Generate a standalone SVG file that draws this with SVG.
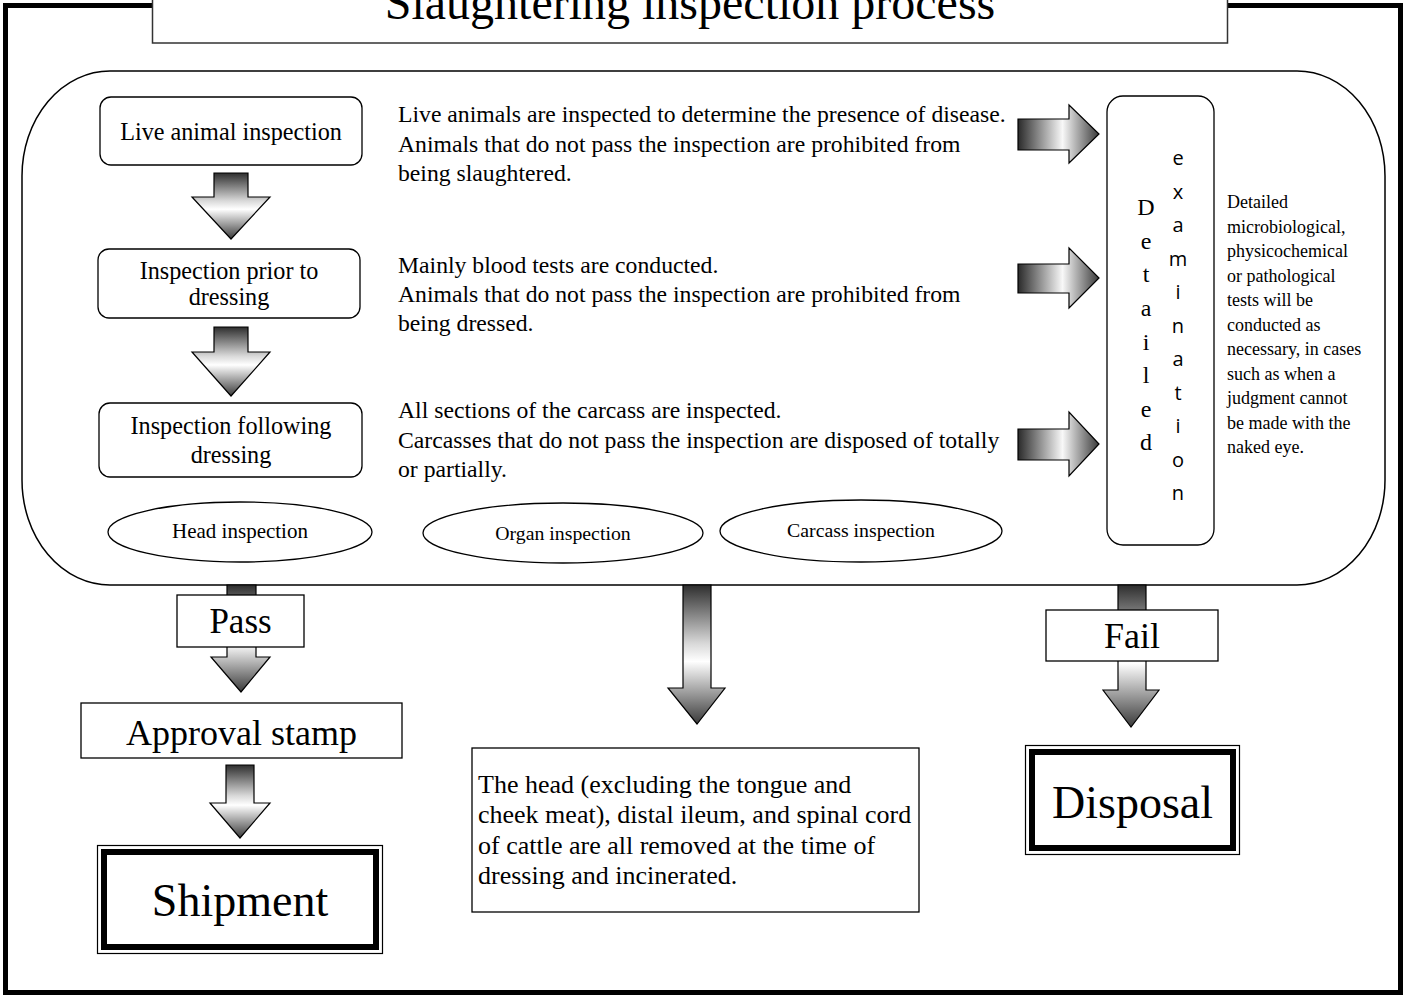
<svg xmlns="http://www.w3.org/2000/svg" width="1407" height="996" viewBox="0 0 1407 996">
<style>
.serif{font-family:"Liberation Serif","Times New Roman",serif;fill:#000}
.sans{font-family:"Open Sans","Noto Sans","DejaVu Sans",sans-serif;fill:#000}
.box{fill:#fff;stroke:#000;stroke-width:1.3}
.arr{stroke:#000;stroke-width:1.2;stroke-linejoin:miter}
.c{text-anchor:middle}
</style>
<defs>
<linearGradient id="gv" x1="0" y1="0" x2="0" y2="1">
<stop offset="0" stop-color="#2e2e2e"/>
<stop offset="0.42" stop-color="#d8d8d8"/>
<stop offset="0.55" stop-color="#ffffff"/>
<stop offset="1" stop-color="#3a3a3a"/>
</linearGradient>
<linearGradient id="gh" x1="0" y1="0" x2="1" y2="0">
<stop offset="0" stop-color="#2a2a2a"/>
<stop offset="0.55" stop-color="#f8f8f8"/>
<stop offset="1" stop-color="#3a3a3a"/>
</linearGradient>
</defs>
<rect width="1407" height="996" fill="#fff"/>
<rect id="frame" x="5.5" y="5.5" width="1395" height="987" fill="none" stroke="#000" stroke-width="5"/>
<g id="title">
<rect x="152.5" y="-5" width="1075" height="48" fill="#fff" stroke="#333" stroke-width="1.5"/>
<text class="serif c" x="690" y="19" font-size="48">Slaughtering inspection process</text>
</g>
<rect id="container" x="22" y="71" width="1363" height="514" rx="88" ry="105" fill="none" stroke="#000" stroke-width="1.5"/>
<g id="connectors">
<polygon class="arr" fill="url(#gv)" points="214,173 248,173 248,197 270,197 231,239 192,197 214,197"/>
<polygon class="arr" fill="url(#gv)" points="214,327 248,327 248,352 270,352 231,396 192,352 214,352"/>
<polygon class="arr" fill="url(#gh)" points="1018,119 1069,119 1069,105 1099,134 1069,163 1069,150 1018,150"/>
<polygon class="arr" fill="url(#gh)" points="1018,264 1069,264 1069,248 1099,278 1069,308 1069,293 1018,293"/>
<polygon class="arr" fill="url(#gh)" points="1018,429 1069,429 1069,412 1099,444 1069,476 1069,460 1018,460"/>
<polygon class="arr" fill="url(#gv)" points="227,585 256,585 256,657 270,657 241,692 211,657 227,657"/>
<polygon class="arr" fill="url(#gv)" points="226,765 254,765 254,803 270,803 240,838 210,803 226,803"/>
<polygon class="arr" fill="url(#gv)" points="683,585 711,585 711,688 725,688 697,724 668,688 683,688"/>
<polygon class="arr" fill="url(#gv)" points="1118,585 1146,585 1146,690 1159,690 1131,727 1103,690 1118,690"/>
</g>
<g id="live">
<rect class="box" x="100" y="97" width="262" height="68" rx="11"/>
<text class="serif c" x="231" y="140" font-size="24.2">Live animal inspection</text>
</g>
<g id="prior">
<rect class="box" x="98" y="249" width="262" height="69" rx="11"/>
<text class="serif c" x="229" y="279" font-size="24.2">Inspection prior to</text>
<text class="serif c" x="229" y="305" font-size="24.2">dressing</text>
</g>
<g id="following">
<rect class="box" x="99" y="403" width="263" height="74" rx="11"/>
<text class="serif c" x="231" y="434" font-size="24.2">Inspection following</text>
<text class="serif c" x="231" y="463" font-size="24.2">dressing</text>
</g>
<g id="desc1">
<text class="serif" font-size="23.7"><tspan x="398" y="122">Live animals are inspected to determine the presence of disease.</tspan><tspan x="398" y="152">Animals that do not pass the inspection are prohibited from</tspan><tspan x="398" y="181">being slaughtered.</tspan></text>
</g>
<g id="desc2">
<text class="serif" font-size="23.7"><tspan x="398" y="273">Mainly blood tests are conducted.</tspan><tspan x="398" y="302">Animals that do not pass the inspection are prohibited from</tspan><tspan x="398" y="331">being dressed.</tspan></text>
</g>
<g id="desc3">
<text class="serif" font-size="23.7"><tspan x="398" y="418">All sections of the carcass are inspected.</tspan><tspan x="398" y="448">Carcasses that do not pass the inspection are disposed of totally</tspan><tspan x="398" y="477">or partially.</tspan></text>
</g>
<g id="head">
<ellipse class="box" cx="240" cy="532" rx="132" ry="30"/>
<text class="serif c" x="240" y="538" font-size="21">Head inspection</text>
</g>
<g id="organ">
<ellipse class="box" cx="563" cy="533" rx="140" ry="30"/>
<text class="serif c" x="563" y="540" font-size="19.8">Organ inspection</text>
</g>
<g id="carcass">
<ellipse class="box" cx="861" cy="531" rx="141" ry="31"/>
<text class="serif c" x="861" y="537" font-size="19.8">Carcass inspection</text>
</g>
<g id="detailed">
<rect class="box" x="1107" y="96" width="107" height="449" rx="16"/>
<text class="serif c" font-size="24"><tspan x="1146" y="215">D</tspan><tspan x="1146" y="248.6">e</tspan><tspan x="1146" y="282">t</tspan><tspan x="1146" y="316">a</tspan><tspan x="1146" y="349.5">i</tspan><tspan x="1146" y="383">l</tspan><tspan x="1146" y="417">e</tspan><tspan x="1146" y="450">d</tspan></text>
<text class="sans c" font-size="20"><tspan x="1178" y="165">e</tspan><tspan x="1178" y="198.5">x</tspan><tspan x="1178" y="232">a</tspan><tspan x="1178" y="265.5">m</tspan><tspan x="1178" y="299">i</tspan><tspan x="1178" y="332.5">n</tspan><tspan x="1178" y="366">a</tspan><tspan x="1178" y="399.5">t</tspan><tspan x="1178" y="433">i</tspan><tspan x="1178" y="466.5">o</tspan><tspan x="1178" y="500">n</tspan></text>
</g>
<g id="note">
<text class="serif" font-size="18"><tspan x="1227" y="208">Detailed</tspan><tspan x="1227" y="232.5">microbiological,</tspan><tspan x="1227" y="257">physicochemical</tspan><tspan x="1227" y="281.5">or pathological</tspan><tspan x="1227" y="306">tests will be</tspan><tspan x="1227" y="330.5">conducted as</tspan><tspan x="1227" y="355">necessary, in cases</tspan><tspan x="1227" y="379.5">such as when a</tspan><tspan x="1227" y="404">judgment cannot</tspan><tspan x="1227" y="428.5">be made with the</tspan><tspan x="1227" y="453">naked eye.</tspan></text>
</g>
<g id="pass">
<rect class="box" x="177" y="595" width="127" height="52"/>
<text class="serif c" x="240.5" y="633" font-size="35">Pass</text>
</g>
<g id="approval">
<rect class="box" x="81" y="703" width="321" height="55"/>
<text class="serif c" x="241.5" y="745" font-size="36">Approval stamp</text>
</g>
<g id="shipment">
<rect x="97.5" y="845.5" width="285" height="108" fill="#fff" stroke="#000" stroke-width="1.2"/>
<rect x="104" y="852" width="272" height="95" fill="none" stroke="#000" stroke-width="6"/>
<text class="serif c" x="240" y="916" font-size="46">Shipment</text>
</g>
<g id="removed">
<rect class="box" x="472" y="748" width="447" height="164"/>
<text class="serif" font-size="26"><tspan x="478" y="793">The head (excluding the tongue and</tspan><tspan x="478" y="823">cheek meat), distal ileum, and spinal cord</tspan><tspan x="478" y="854">of cattle are all removed at the time of</tspan><tspan x="478" y="884">dressing and incinerated.</tspan></text>
</g>
<g id="fail">
<rect class="box" x="1046" y="610" width="172" height="51"/>
<text class="serif c" x="1132" y="648" font-size="36">Fail</text>
</g>
<g id="disposal">
<rect x="1025.5" y="745.5" width="214" height="109" fill="#fff" stroke="#000" stroke-width="1.2"/>
<rect x="1032" y="752" width="201" height="96" fill="none" stroke="#000" stroke-width="6"/>
<text class="serif c" x="1132.5" y="818" font-size="46">Disposal</text>
</g>
</svg>
